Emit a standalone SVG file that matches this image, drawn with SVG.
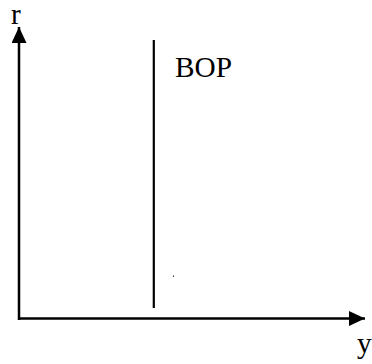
<svg xmlns="http://www.w3.org/2000/svg" width="372" height="364" viewBox="0 0 372 364">
<style>
.ax{stroke:#000;stroke-width:2.5;fill:none}
.t{font-family:"Liberation Serif",serif;font-size:29.3px;fill:#000}
</style>
<defs>
<marker id="ah" viewBox="0 0 16 15" refX="16" refY="7.5" markerWidth="16" markerHeight="15" markerUnits="userSpaceOnUse" orient="auto">
<path d="M0,0 L16,7.5 L0,15 Z" fill="#000"/>
</marker>
</defs>
<rect width="372" height="364" fill="#fff"/>
<g id="connectors">
<line class="ax" x1="19" y1="320" x2="19" y2="27" marker-end="url(#ah)"/>
<line class="ax" x1="18" y1="318.5" x2="365" y2="318.5" marker-end="url(#ah)"/>
</g>
<g id="bop">
<line x1="153.8" y1="40" x2="153.8" y2="308" stroke="#000" stroke-width="2.2"/>
<text class="t" x="175" y="77">BOP</text>
</g>
<g id="labels">
<text class="t" x="11" y="24">r</text>
<text class="t" x="357" y="353">y</text>
<rect x="173" y="275.5" width="1" height="1.5" fill="#333"/>
</g>
</svg>
